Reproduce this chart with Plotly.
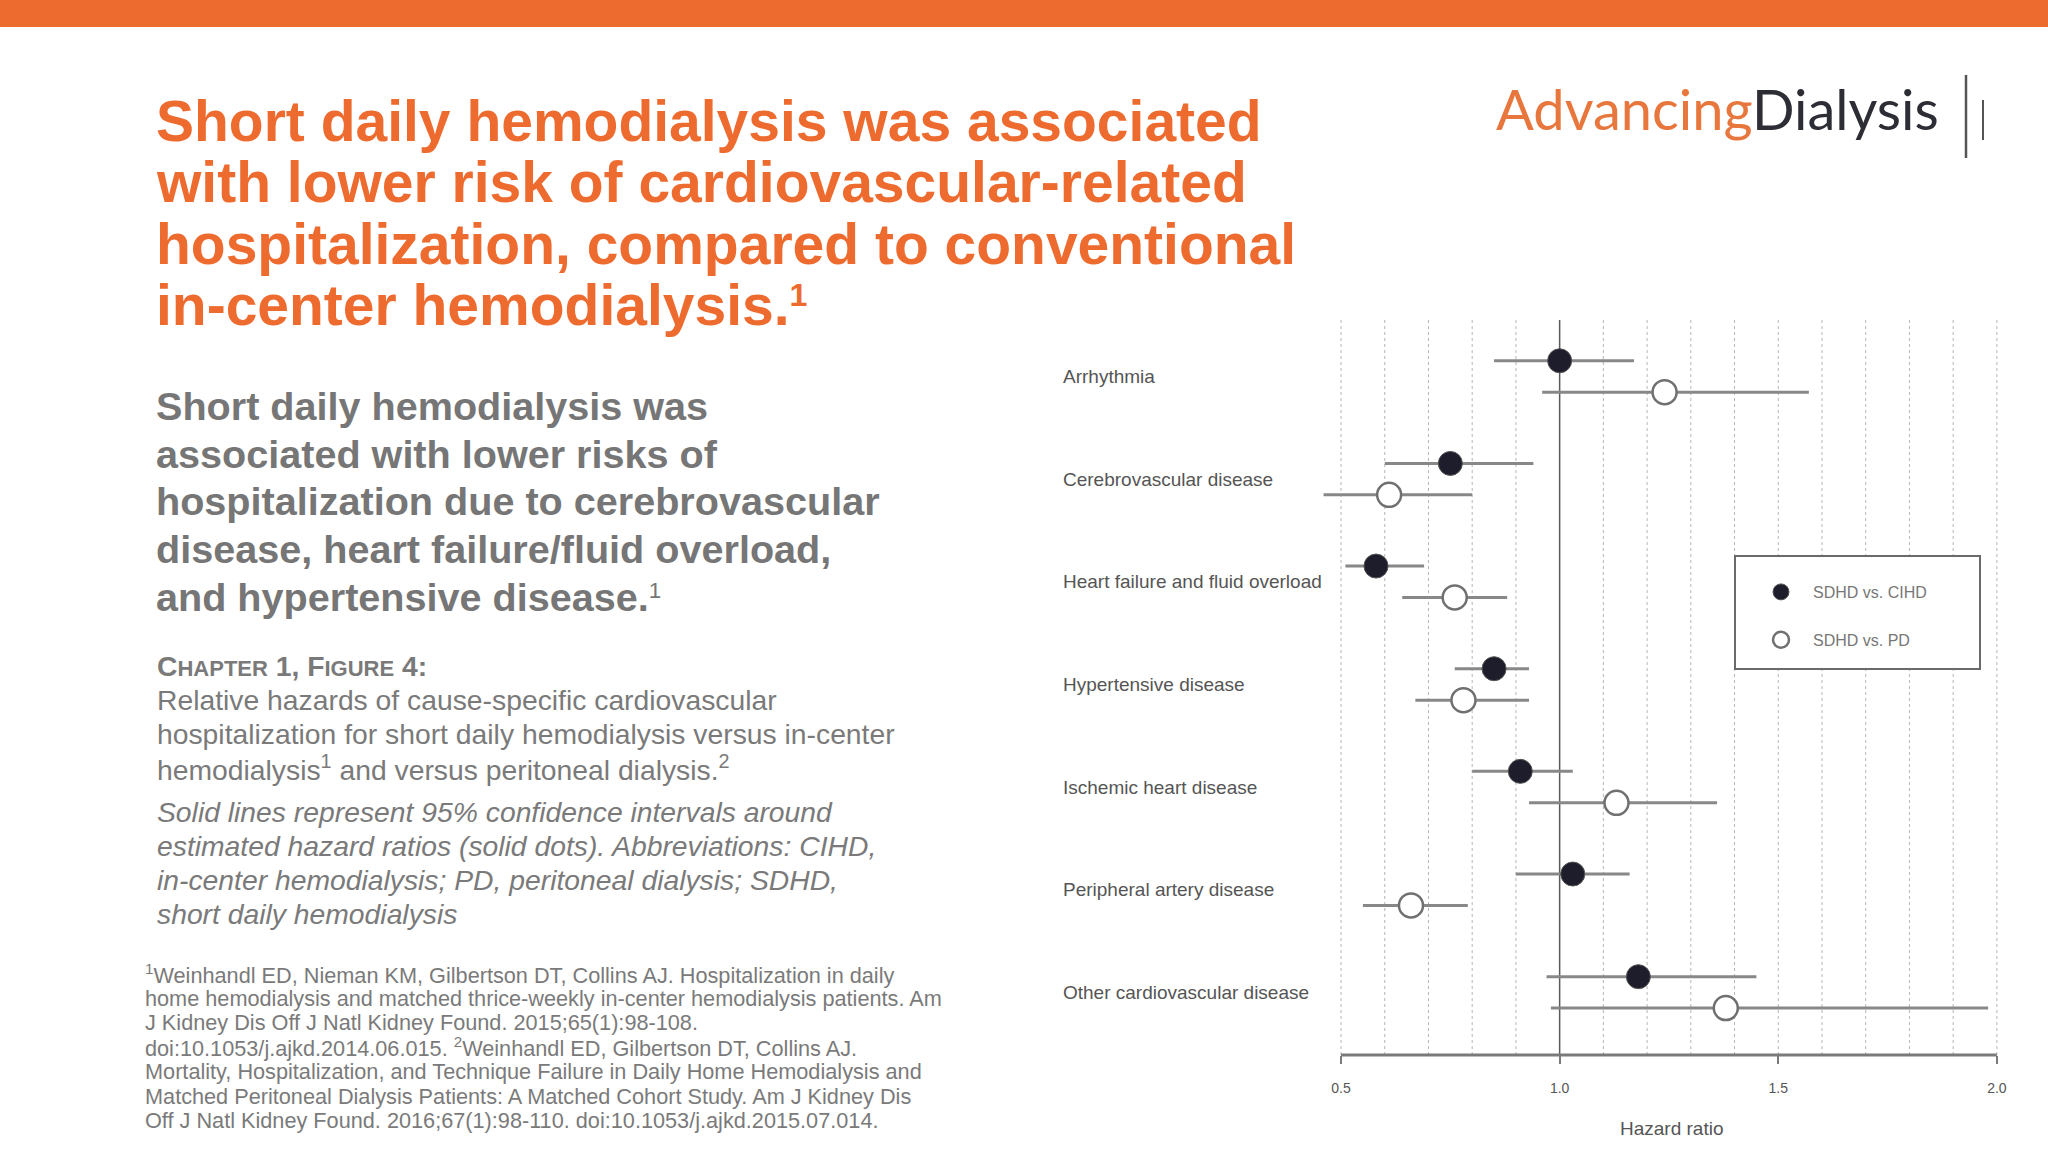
import plotly.graph_objects as go

# ---------------- data ----------------
categories = ["Arrhythmia", "Cerebrovascular disease", "Heart failure and fluid overload",
              "Hypertensive disease", "Ischemic heart disease", "Peripheral artery disease",
              "Other cardiovascular disease"]
cihd_hr = [1.00, 0.75, 0.58, 0.85, 0.91, 1.03, 1.18]
cihd_lo = [0.85, 0.60, 0.51, 0.76, 0.80, 0.90, 0.97]
cihd_hi = [1.17, 0.94, 0.69, 0.93, 1.03, 1.16, 1.45]
pd_hr = [1.24, 0.61, 0.76, 0.78, 1.13, 0.66, 1.38]
pd_lo = [0.96, 0.46, 0.64, 0.67, 0.93, 0.55, 0.98]
pd_hi = [1.57, 0.80, 0.88, 0.93, 1.36, 0.79, 1.98]
tick_vals = [0.5, 1.0, 1.5, 2.0]
tick_text = ["0.5", "1.0", "1.5", "2.0"]
grid_vals = [0.5, 0.6, 0.7, 0.8, 0.9, 1.1, 1.2, 1.3, 1.4, 1.5, 1.6, 1.7, 1.8, 1.9, 2.0]
series_names = ["SDHD vs. CIHD", "SDHD vs. PD"]

title_lines = ["Short daily hemodialysis was associated",
               "with lower risk of cardiovascular-related",
               "hospitalization, compared to conventional",
               "in-center hemodialysis.<span style='font-size:46px'><sup>1</sup></span>"]
sub_lines = ["Short daily hemodialysis was",
             "associated with lower risks of",
             "hospitalization due to cerebrovascular",
             "disease, heart failure/fluid overload,",
             "and hypertensive disease.<span style='font-weight:normal;font-size:32px'><sup>1</sup></span>"]
body_lines = ["Relative hazards of cause-specific cardiovascular",
              "hospitalization for short daily hemodialysis versus in-center",
              "hemodialysis<sup>1</sup> and versus peritoneal dialysis.<sup>2</sup>"]
ital_lines = ["Solid lines represent 95% confidence intervals around",
              "estimated hazard ratios (solid dots). Abbreviations: CIHD,",
              "in-center hemodialysis; PD, peritoneal dialysis; SDHD,",
              "short daily hemodialysis"]
foot_lines = ["<sup>1</sup>Weinhandl ED, Nieman KM, Gilbertson DT, Collins AJ. Hospitalization in daily",
              "home hemodialysis and matched thrice-weekly in-center hemodialysis patients. Am",
              "J Kidney Dis Off J Natl Kidney Found. 2015;65(1):98-108.",
              "doi:10.1053/j.ajkd.2014.06.015. <sup>2</sup>Weinhandl ED, Gilbertson DT, Collins AJ.",
              "Mortality, Hospitalization, and Technique Failure in Daily Home Hemodialysis and",
              "Matched Peritoneal Dialysis Patients: A Matched Cohort Study. Am J Kidney Dis",
              "Off J Natl Kidney Found. 2016;67(1):98-110. doi:10.1053/j.ajkd.2015.07.014."]

# ---------------- layout helpers ----------------
W, H = 2048, 1152
def px(x):
    return x / W
def py(y):
    return 1 - y / H

ORANGE = "#EE6B2F"
FONT = "Liberation Sans, Arial, sans-serif"
off = 0.153
idx = list(range(len(categories)))

fig = go.Figure()
fig.add_trace(go.Scatter(
    x=cihd_hr, y=[i - off for i in idx], mode="markers", name=series_names[0],
    legendgroup="a",
    error_x=dict(type="data", symmetric=False,
                 array=[h - m for h, m in zip(cihd_hi, cihd_hr)],
                 arrayminus=[m - l for m, l in zip(cihd_hr, cihd_lo)],
                 color="#888888", thickness=3, width=0),
    marker=dict(size=24, color="#1d1d2b", line=dict(color="#555555", width=1)),
))
fig.add_trace(go.Scatter(
    x=pd_hr, y=[i + off for i in idx], mode="markers", name=series_names[1],
    legendgroup="b",
    error_x=dict(type="data", symmetric=False,
                 array=[h - m for h, m in zip(pd_hi, pd_hr)],
                 arrayminus=[m - l for m, l in zip(pd_hr, pd_lo)],
                 color="#888888", thickness=3, width=0),
    marker=dict(size=24, color="#ffffff", line=dict(color="#707070", width=2.5)),
))

shapes = []
# orange top bar
shapes.append(dict(type="rect", xref="paper", yref="paper", x0=0, x1=1, y0=py(27), y1=1,
                   fillcolor=ORANGE, line=dict(width=0), layer="below"))
# grid
for v in grid_vals:
    shapes.append(dict(type="line", xref="x", yref="y domain", x0=v, x1=v, y0=0, y1=1,
                       line=dict(color="#b5b5b5", width=1, dash="3px,3px"), layer="below"))
shapes.append(dict(type="line", xref="x", yref="y domain", x0=1.0, x1=1.0, y0=0, y1=1,
                   line=dict(color="#5a5a5a", width=1.5), layer="below"))
# x axis line
shapes.append(dict(type="line", xref="x", yref="y domain", x0=0.5, x1=2.0, y0=0, y1=0,
                   line=dict(color="#7a7a7a", width=3)))
# legend box
shapes.append(dict(type="rect", xref="paper", yref="paper", x0=px(1735), x1=px(1980),
                   y0=py(669), y1=py(556), line=dict(color="#6a6a6a", width=2),
                   fillcolor="white", layer="below"))
# logo bars
shapes.append(dict(type="line", xref="paper", yref="paper", x0=px(1966), x1=px(1966),
                   y0=py(75), y1=py(158), line=dict(color="#555555", width=2.5)))
shapes.append(dict(type="line", xref="paper", yref="paper", x0=px(1983), x1=px(1983),
                   y0=py(100), y1=py(140), line=dict(color="#555555", width=2)))

ann = []
def text(s, x, y, size, color, family=FONT, anchor="left"):
    ann.append(dict(text=s, xref="paper", yref="paper", x=px(x), y=py(y), xanchor=anchor,
                    yanchor="middle", showarrow=False,
                    font=dict(size=size, color=color, family=family)))

title_y = [121, 182.4, 243.8, 305]
for k, s in enumerate(title_lines):
    text("<b>" + s + "</b>", 154, title_y[k], 57, ORANGE)
sub_y = [406, 453.7, 501.4, 549.1, 597]
for k, s in enumerate(sub_lines):
    text("<b>" + s + "</b>", 154, sub_y[k], 39.6, "#767676")
text("<b>C<span style='font-size:22px'>HAPTER</span> 1, F<span style='font-size:22px'>IGURE</span> 4:</b>",
     155, 666, 28.3, "#7a7a7a")
for k, s in enumerate(body_lines):
    text(s, 155, 700 + k * 34, 28.3, "#7a7a7a")
for k, s in enumerate(ital_lines):
    text("<i>" + s + "</i>", 155, 812 + k * 34, 28.3, "#7a7a7a")
for k, s in enumerate(foot_lines):
    text(s, 143, 974 + k * 24.4, 21.7, "#7a7a7a")

# logo
text("<span style='color:#E8773D'>Advancing</span><span style='color:#2d2d36'>Dialysis</span>",
     1494, 108, 56, "#2d2d36", family="Lato, sans-serif")

# category labels
for i, c in enumerate(categories):
    ann.append(dict(text=c, xref="paper", yref="y", x=px(1061), y=i, xanchor="left",
                    yanchor="middle", showarrow=False,
                    font=dict(size=19, color="#555555", family=FONT)))
# axis title
text("Hazard ratio", 1672, 1128, 19, "#555555", anchor="center")

fig.update_layout(
    width=W, height=H, margin=dict(l=0, r=0, t=0, b=0),
    paper_bgcolor="white", plot_bgcolor="white",
    shapes=shapes, annotations=ann,
    showlegend=True,
    legend=dict(x=px(1749), y=py(575), xanchor="left", yanchor="top",
                bgcolor="rgba(0,0,0,0)", borderwidth=0, tracegroupgap=24, itemwidth=54,
                font=dict(size=16, color="#777777", family=FONT)),
    xaxis=dict(domain=[px(1314.8), px(2010)], range=[0.44, 2.03],
               tickvals=tick_vals, ticktext=tick_text, ticks="outside", ticklen=8,
               tickwidth=2, tickcolor="#7a7a7a", showgrid=False, zeroline=False,
               showline=False, ticklabelstandoff=12,
               tickfont=dict(size=14, color="#555555", family=FONT)),
    yaxis=dict(domain=[py(1055), py(320)], range=[6.61, -0.55], visible=False,
               showgrid=False, zeroline=False),
)

fig.write_html("out.html", config={"displayModeBar": False},
               post_script="document.body.style.margin='0';document.body.style.overflow='hidden';")
